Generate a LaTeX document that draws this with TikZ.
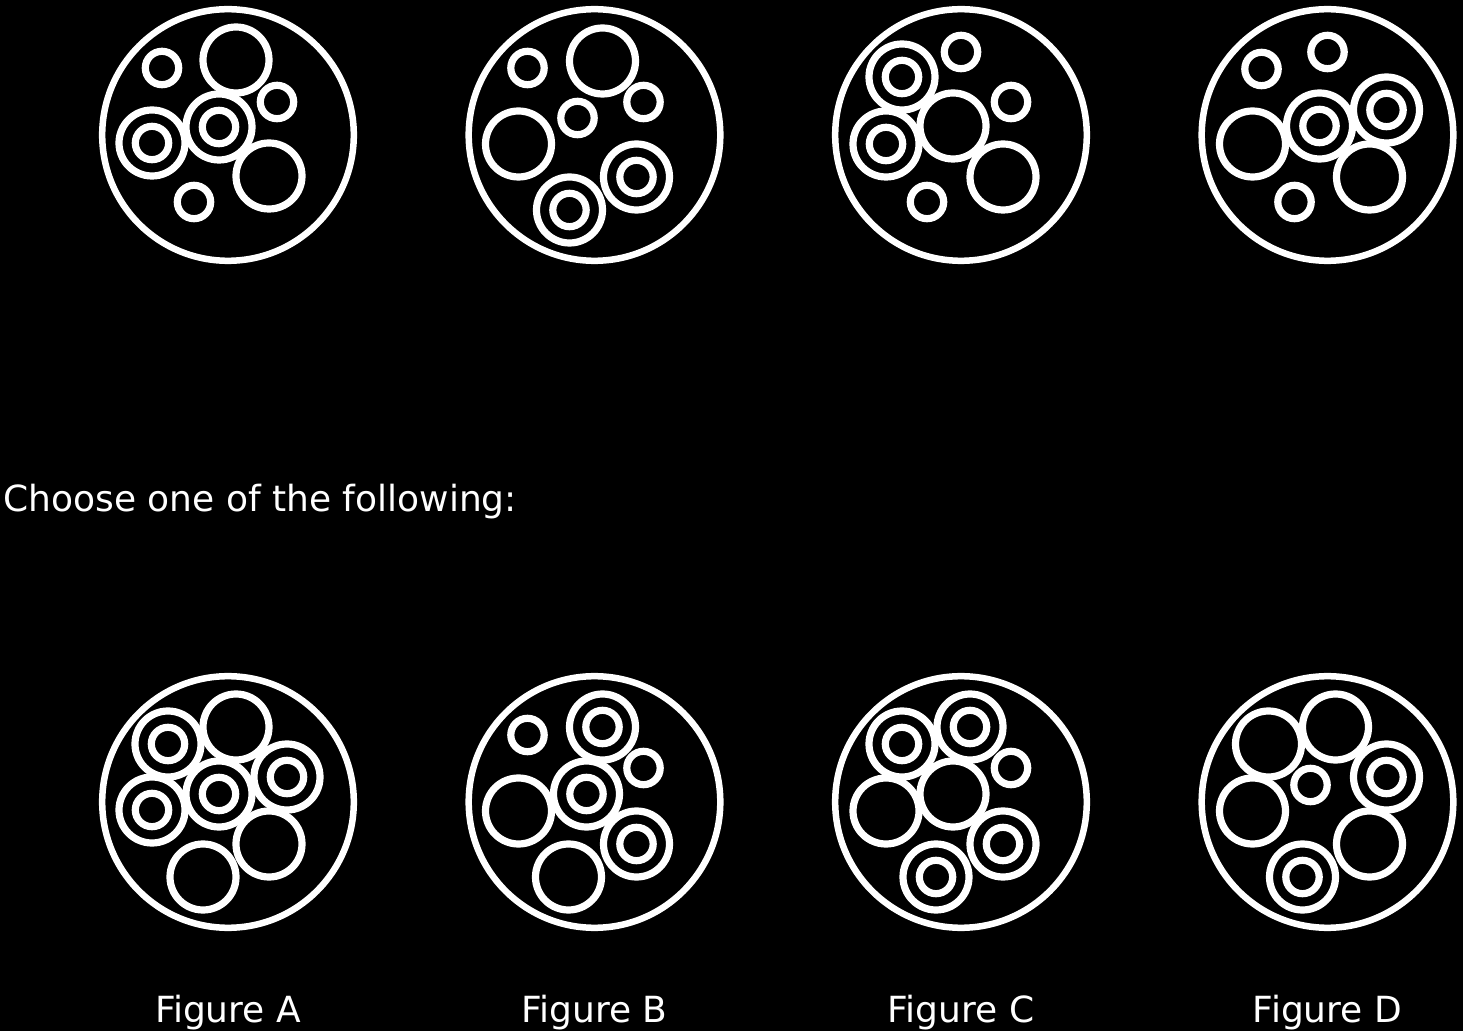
\documentclass[tikz,border=0pt]{standalone}
\usepackage{fontspec}
\setmainfont{DejaVu Sans}
\tikzset{
  rim/.style={draw=white, line width=3.25pt},
  ring/.style={draw=white, line width=3.6pt},
  lbl/.style={text=white, inner sep=0pt, font=\fontsize{18pt}{22pt}\selectfont},
}
\newcommand\ringS[2]{\draw[ring] (#1,#2) circle[radius=8.35pt];}
\newcommand\ringL[2]{\draw[ring] (#1,#2) circle[radius=16.5pt];}
\newcommand\ringC[2]{\draw[ring] (#1,#2) circle[radius=16.5pt] (#1,#2) circle[radius=8.35pt];}
\newcommand\rimO{\draw[rim] (0,0) circle[radius=62.9pt];}
\begin{document}
\begin{tikzpicture}[x=0.5pt,y=-0.5pt]
\fill[black] (0,0) rectangle (1463,1031);
\useasboundingbox (0,0) rectangle (1463,1031);
% centres
\coordinate (t1) at (228,135);
\coordinate (t2) at (594.5,135);
\coordinate (t3) at (961,135);
\coordinate (t4) at (1327.5,135);
\coordinate (b1) at (228,802);
\coordinate (b2) at (594.5,802);
\coordinate (b3) at (961,802);
\coordinate (b4) at (1327.5,802);
% top 1
\begin{scope}[shift={(t1)}]
\rimO
\ringS{-66}{-67}\ringL{8}{-75}\ringS{49}{-33}\ringC{-76}{8}\ringC{-9}{-8}\ringS{-34}{67}\ringL{41}{41}
\end{scope}
% top 2
\begin{scope}[shift={(t2)}]
\rimO
\ringS{-67}{-67}\ringL{8}{-74}\ringS{49}{-33}\ringS{-17}{-17}\ringL{-76}{9}\ringC{42}{42}\ringC{-25}{75}
\end{scope}
% top 3
\begin{scope}[shift={(t3)}]
\rimO
\ringS{0}{-83}\ringC{-59}{-58}\ringS{50}{-33}\ringC{-75}{9}\ringL{-8}{-9}\ringL{42}{42}\ringS{-34}{67}
\end{scope}
% top 4
\begin{scope}[shift={(t4)}]
\rimO
\ringS{-66}{-66}\ringS{0}{-83}\ringL{-75}{9}\ringC{-8}{-9}\ringC{59}{-25}\ringL{42}{42}\ringS{-33}{67}
\end{scope}
% bottom A
\begin{scope}[shift={(b1)}]
\rimO
\ringL{8}{-75}\ringC{-60}{-58}\ringC{-76}{8}\ringC{-9}{-8}\ringC{59}{-25}\ringL{41}{42}\ringL{-25}{75}
\end{scope}
% bottom B
\begin{scope}[shift={(b2)}]
\rimO
\ringS{-67}{-67}\ringC{8}{-75}\ringS{49}{-34}\ringC{-8}{-8}\ringL{-76}{9}\ringC{42}{42}\ringL{-26}{75}
\end{scope}
% bottom C
\begin{scope}[shift={(b3)}]
\rimO
\ringC{-59}{-58}\ringC{9}{-75}\ringS{50}{-34}\ringL{-75}{9}\ringL{-8}{-8}\ringC{42}{42}\ringC{-25}{75}
\end{scope}
% bottom D
\begin{scope}[shift={(b4)}]
\rimO
\ringL{-59}{-58}\ringL{8}{-75}\ringC{59}{-25}\ringS{-17}{-17}\ringL{-75}{9}\ringL{42}{42}\ringC{-25}{75}
\end{scope}
% texts
\node[lbl, anchor=base west] (q) at (3,512) {Choose one of the following:};
\node[lbl, anchor=base] (la) at (228,1022) {Figure A};
\node[lbl, anchor=base] (lb) at (594.5,1022) {Figure B};
\node[lbl, anchor=base] (lc) at (961,1022) {Figure C};
\node[lbl, anchor=base] (ld) at (1327.5,1022) {Figure D};
\end{tikzpicture}
\end{document}
